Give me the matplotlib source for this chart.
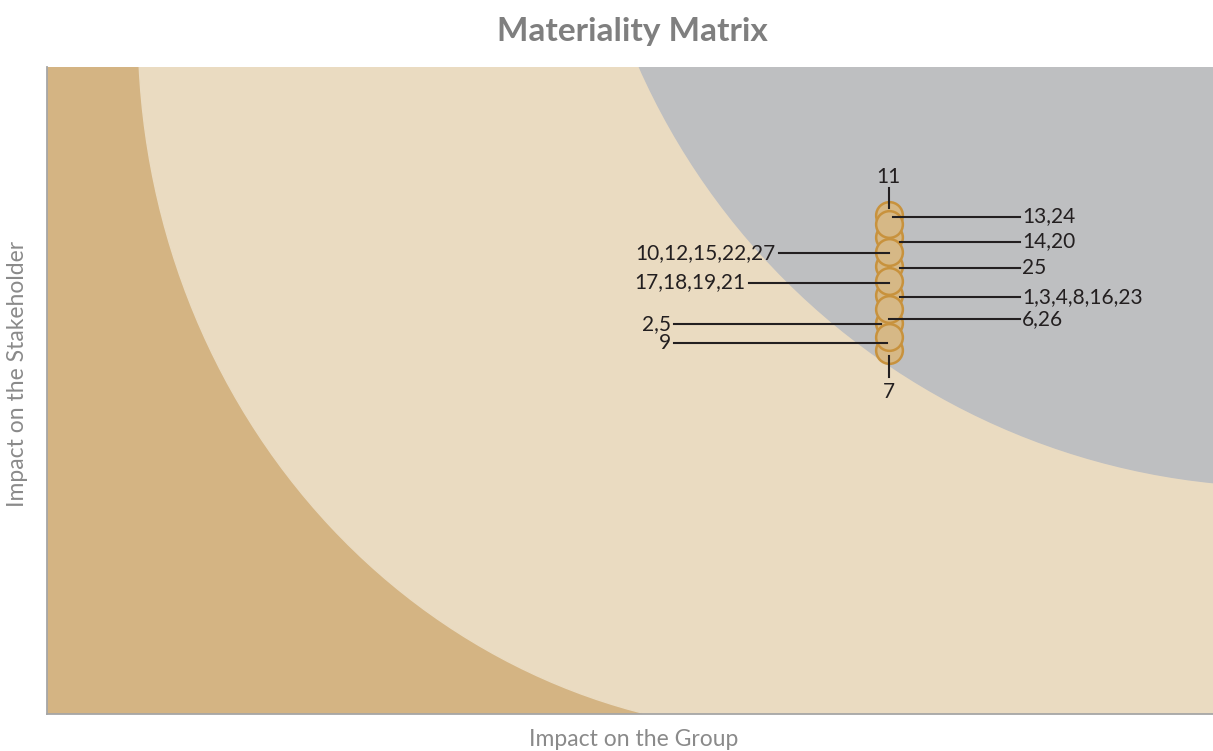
import numpy as np
import matplotlib.pyplot as plt
from matplotlib.patches import Ellipse, Rectangle
import matplotlib.transforms as mtransforms

plt.rcParams['font.family'] = ['Lato', 'DejaVu Sans']

# Topic groups (label), all sit on the same x value
labels = ['11', '14,20', '25', '1,3,4,8,16,23', '2,5', '7',
          '13,24', '10,12,15,22,27', '17,18,19,21', '6,26', '9']
impact_group = [3.61, 3.61, 3.61, 3.61, 3.61, 3.61,
                3.61, 3.61, 3.61, 3.61, 3.61]
impact_stakeholder = [3.86, 3.69, 3.46, 3.24, 3.02, 2.81,
                      3.79, 3.57, 3.35, 3.13, 2.91]

# leader layout per label: side, leader dy, inner end, outer end (pixels)
leaders = {
    '11': ('top', 7, 27),
    '7': ('bottom', -6, -27),
    '13,24': ('right', 7, 4, 131),
    '14,20': ('right', -5, 11, 131),
    '25': ('right', -2, 11, 131),
    '1,3,4,8,16,23': ('right', -2, 11, 131),
    '6,26': ('right', -10, 0, 131),
    '10,12,15,22,27': ('left', -1, 0, -110),
    '17,18,19,21': ('left', -2, 0, -140),
    '2,5': ('left', -1, -8, -215),
    '9': ('left', -6, -2, -215),
}

fig = plt.figure(figsize=(12.13, 7.51), dpi=100)
ax = fig.add_axes([47 / 1213, 37 / 751, 1166 / 1213, 647 / 751])
ax.set_xlim(0, 5)
ax.set_ylim(0, 5)

# background zones
ax.add_patch(Rectangle((0, 0), 5, 5, color='#D4B483', zorder=0))
ax.add_patch(Ellipse((3.208, 5.286), 5.633, 10.855, color='#EADBC1', zorder=1))
ax.add_patch(Rectangle((3.208, 0), 1.792, 5, color='#EADBC1', zorder=1))
ax.add_patch(Ellipse((5.305, 7.21), 6.05, 10.9, color='#BEBFC1', zorder=2))

# bubbles, later ones on top
for i in range(len(labels)):
    ax.scatter(impact_group[i], impact_stakeholder[i], s=370, color='#D6B886',
               edgecolor='#C8923D', linewidth=1.8, zorder=5 + i)

ink = '#231F20'


def at(dx, dy):
    return mtransforms.offset_copy(ax.transData, fig, x=dx, y=dy, units='dots')


for lab, xv, yv in zip(labels, impact_group, impact_stakeholder):
    lay = leaders[lab]
    side = lay[0]
    base = mtransforms.Affine2D().translate(*ax.transData.transform((xv, yv)))
    if side in ('top', 'bottom'):
        d0, d1 = lay[1], lay[2]
        ax.plot([0, 0], [d0, d1], color=ink, lw=1.5, zorder=30, transform=base)
        off = 11 if side == 'top' else -15
        ax.text(xv, yv, lab, transform=at(0, d1 + off), ha='center', va='center',
                fontsize=15, color=ink, zorder=30)
    else:
        dy, d_in, d_out = lay[1], lay[2], lay[3]
        ax.plot([d_in, d_out], [dy, dy], color=ink, lw=1.5, zorder=30, transform=base)
        if side == 'right':
            ax.text(xv, yv, lab, transform=at(d_out + 2, dy), ha='left', va='center',
                    fontsize=15, color=ink, zorder=30)
        else:
            ax.text(xv, yv, lab, transform=at(d_out - 3, dy), ha='right', va='center',
                    fontsize=15, color=ink, zorder=30)

for s in ['top', 'right']:
    ax.spines[s].set_visible(False)
for s in ['left', 'bottom']:
    ax.spines[s].set_color('#A6A6A6')
    ax.spines[s].set_linewidth(1.3)
    ax.spines[s].set_zorder(40)
ax.set_xticks([])
ax.set_yticks([])

fig.text(632 / 1213, 1 - 32 / 751, 'Materiality Matrix', ha='center', va='center',
         fontsize=24, fontweight='bold', color='#7F7F7F')
fig.text(634 / 1213, 1 - 740 / 751, 'Impact on the Group', ha='center', va='center',
         fontsize=16.5, color='#8A8A8A')
fig.text(18 / 1213, 1 - 374 / 751, 'Impact on the Stakeholder', ha='center', va='center',
         rotation=90, fontsize=16.5, color='#8A8A8A')

fig.savefig('out.png', dpi=100)
